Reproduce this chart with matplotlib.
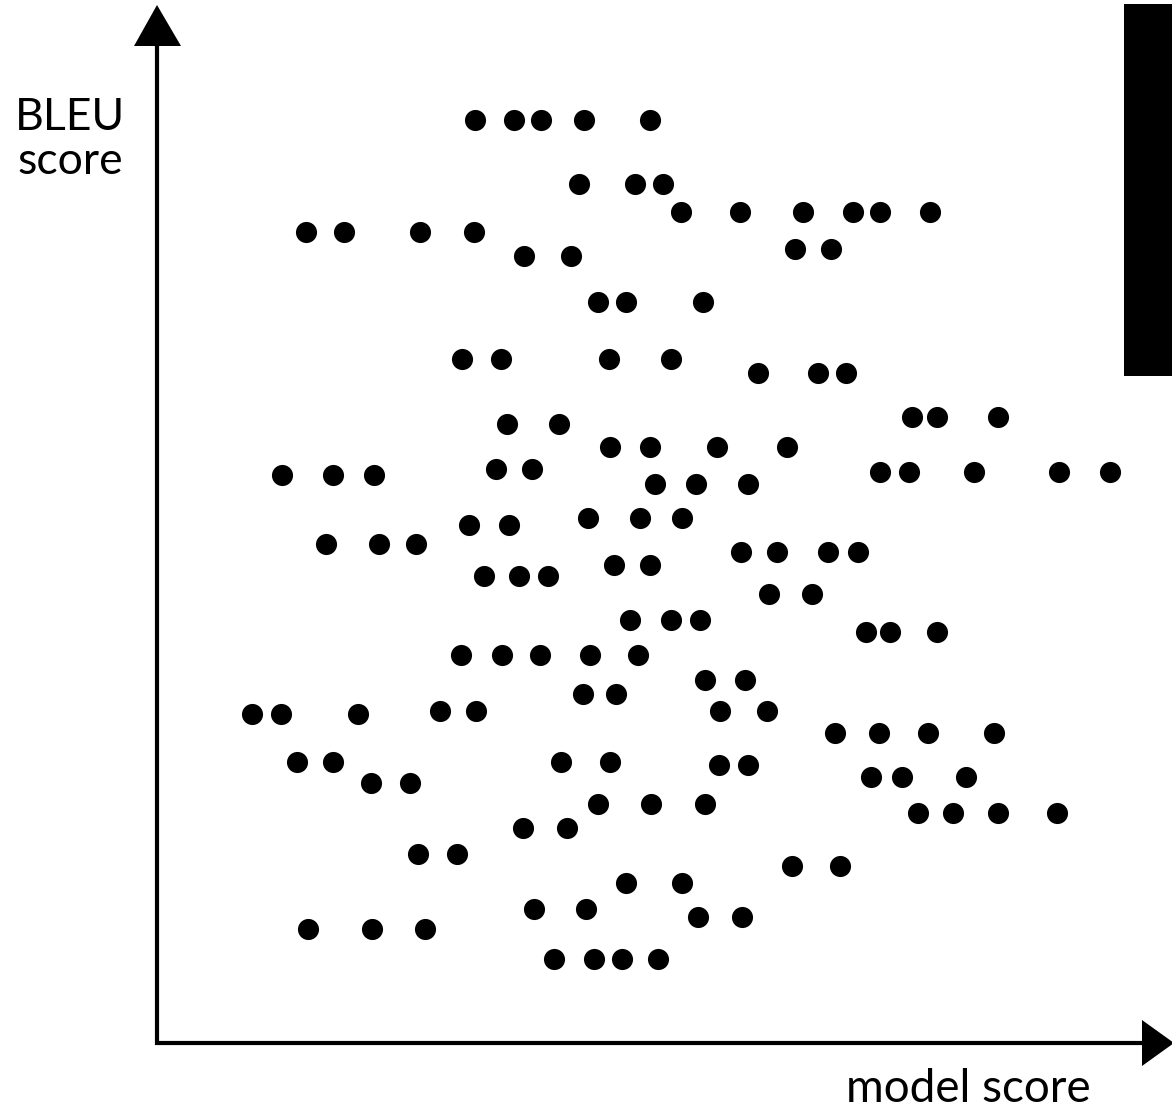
import matplotlib.pyplot as plt
import numpy as np

# dot positions (x right from y-axis, y up from x-axis)
rows_y = [120, 184, 212, 232, 256, 249, 302, 359, 373, 417, 424, 447, 469, 472,
          475, 484, 518, 525, 544, 552, 565, 576, 594, 620, 632, 655, 680, 694,
          711, 714, 733, 762, 765, 777, 783, 804, 813, 828, 854, 866, 883, 909,
          917, 929, 959]
rows_x = [
    [475, 514, 541, 584, 650],
    [579, 635, 663],
    [681, 740, 803, 853, 880, 930],
    [306, 344, 420, 474],
    [524, 571],
    [795, 831],
    [598, 626, 703],
    [462, 501, 609, 671],
    [758, 818, 846],
    [912, 937, 998],
    [507, 559],
    [610, 650, 717, 787],
    [496, 532],
    [880, 909, 974, 1059, 1110],
    [282, 333, 374],
    [655, 696, 748],
    [588, 640, 682],
    [469, 509],
    [326, 379, 416],
    [741, 777, 828, 858],
    [614, 650],
    [484, 519, 548],
    [769, 812],
    [630, 671, 700],
    [866, 890, 937],
    [461, 502, 540, 590, 638],
    [705, 745],
    [583, 616],
    [440, 476, 720, 767],
    [252, 281, 358],
    [835, 879, 928, 994],
    [297, 333, 561, 610],
    [719, 748],
    [871, 902, 966],
    [371, 410],
    [598, 651, 705],
    [918, 953, 998, 1057],
    [523, 567],
    [418, 457],
    [792, 840],
    [626, 682],
    [534, 586],
    [698, 742],
    [308, 372, 425],
    [554, 594, 622, 658],
]

X0, Y0 = 157, 1043  # axes origin in the picture

xs, ys = [], []
for py, row in zip(rows_y, rows_x):
    for px in row:
        xs.append(px - X0)
        ys.append(Y0 - py)

fig = plt.figure(figsize=(11.72, 11.11), dpi=100)
ax = fig.add_axes([0, 0, 1, 1])
ax.set_xlim(-X0, 1172 - X0)
ax.set_ylim(Y0 - 1111, Y0)
ax.axis("off")

ax.plot(xs, ys, "o", color="black", markersize=15.2, markeredgewidth=0)

lw = 3.0
# y axis with arrow head
ax.plot([0, 0], [-2, Y0 - 40], color="black", lw=lw, solid_capstyle="butt")
ax.fill([-23, 24, 0], [Y0 - 46, Y0 - 46, Y0 - 5], color="black", lw=0)
# x axis with arrow head
ax.plot([-2, 1142 - X0], [0, 0], color="black", lw=lw, solid_capstyle="butt")
ax.fill([1142 - X0, 1142 - X0, 1174 - X0], [23, -23, 0], color="black", lw=0)

# black bar at top right
ax.fill([1124 - X0, 1175 - X0, 1175 - X0, 1124 - X0],
        [Y0 - 4, Y0 - 4, Y0 - 376, Y0 - 376], color="black", lw=0)

ax.text(70 - X0, Y0 - 174, "BLEU\nscore", fontsize=32, family="Lato",
        ha="center", va="baseline", linespacing=1.1, multialignment="center")
ax.text(968 - X0, Y0 - 1102, "model score", fontsize=33, family="Lato",
        ha="center", va="baseline")

plt.savefig("out.png", dpi=100)
